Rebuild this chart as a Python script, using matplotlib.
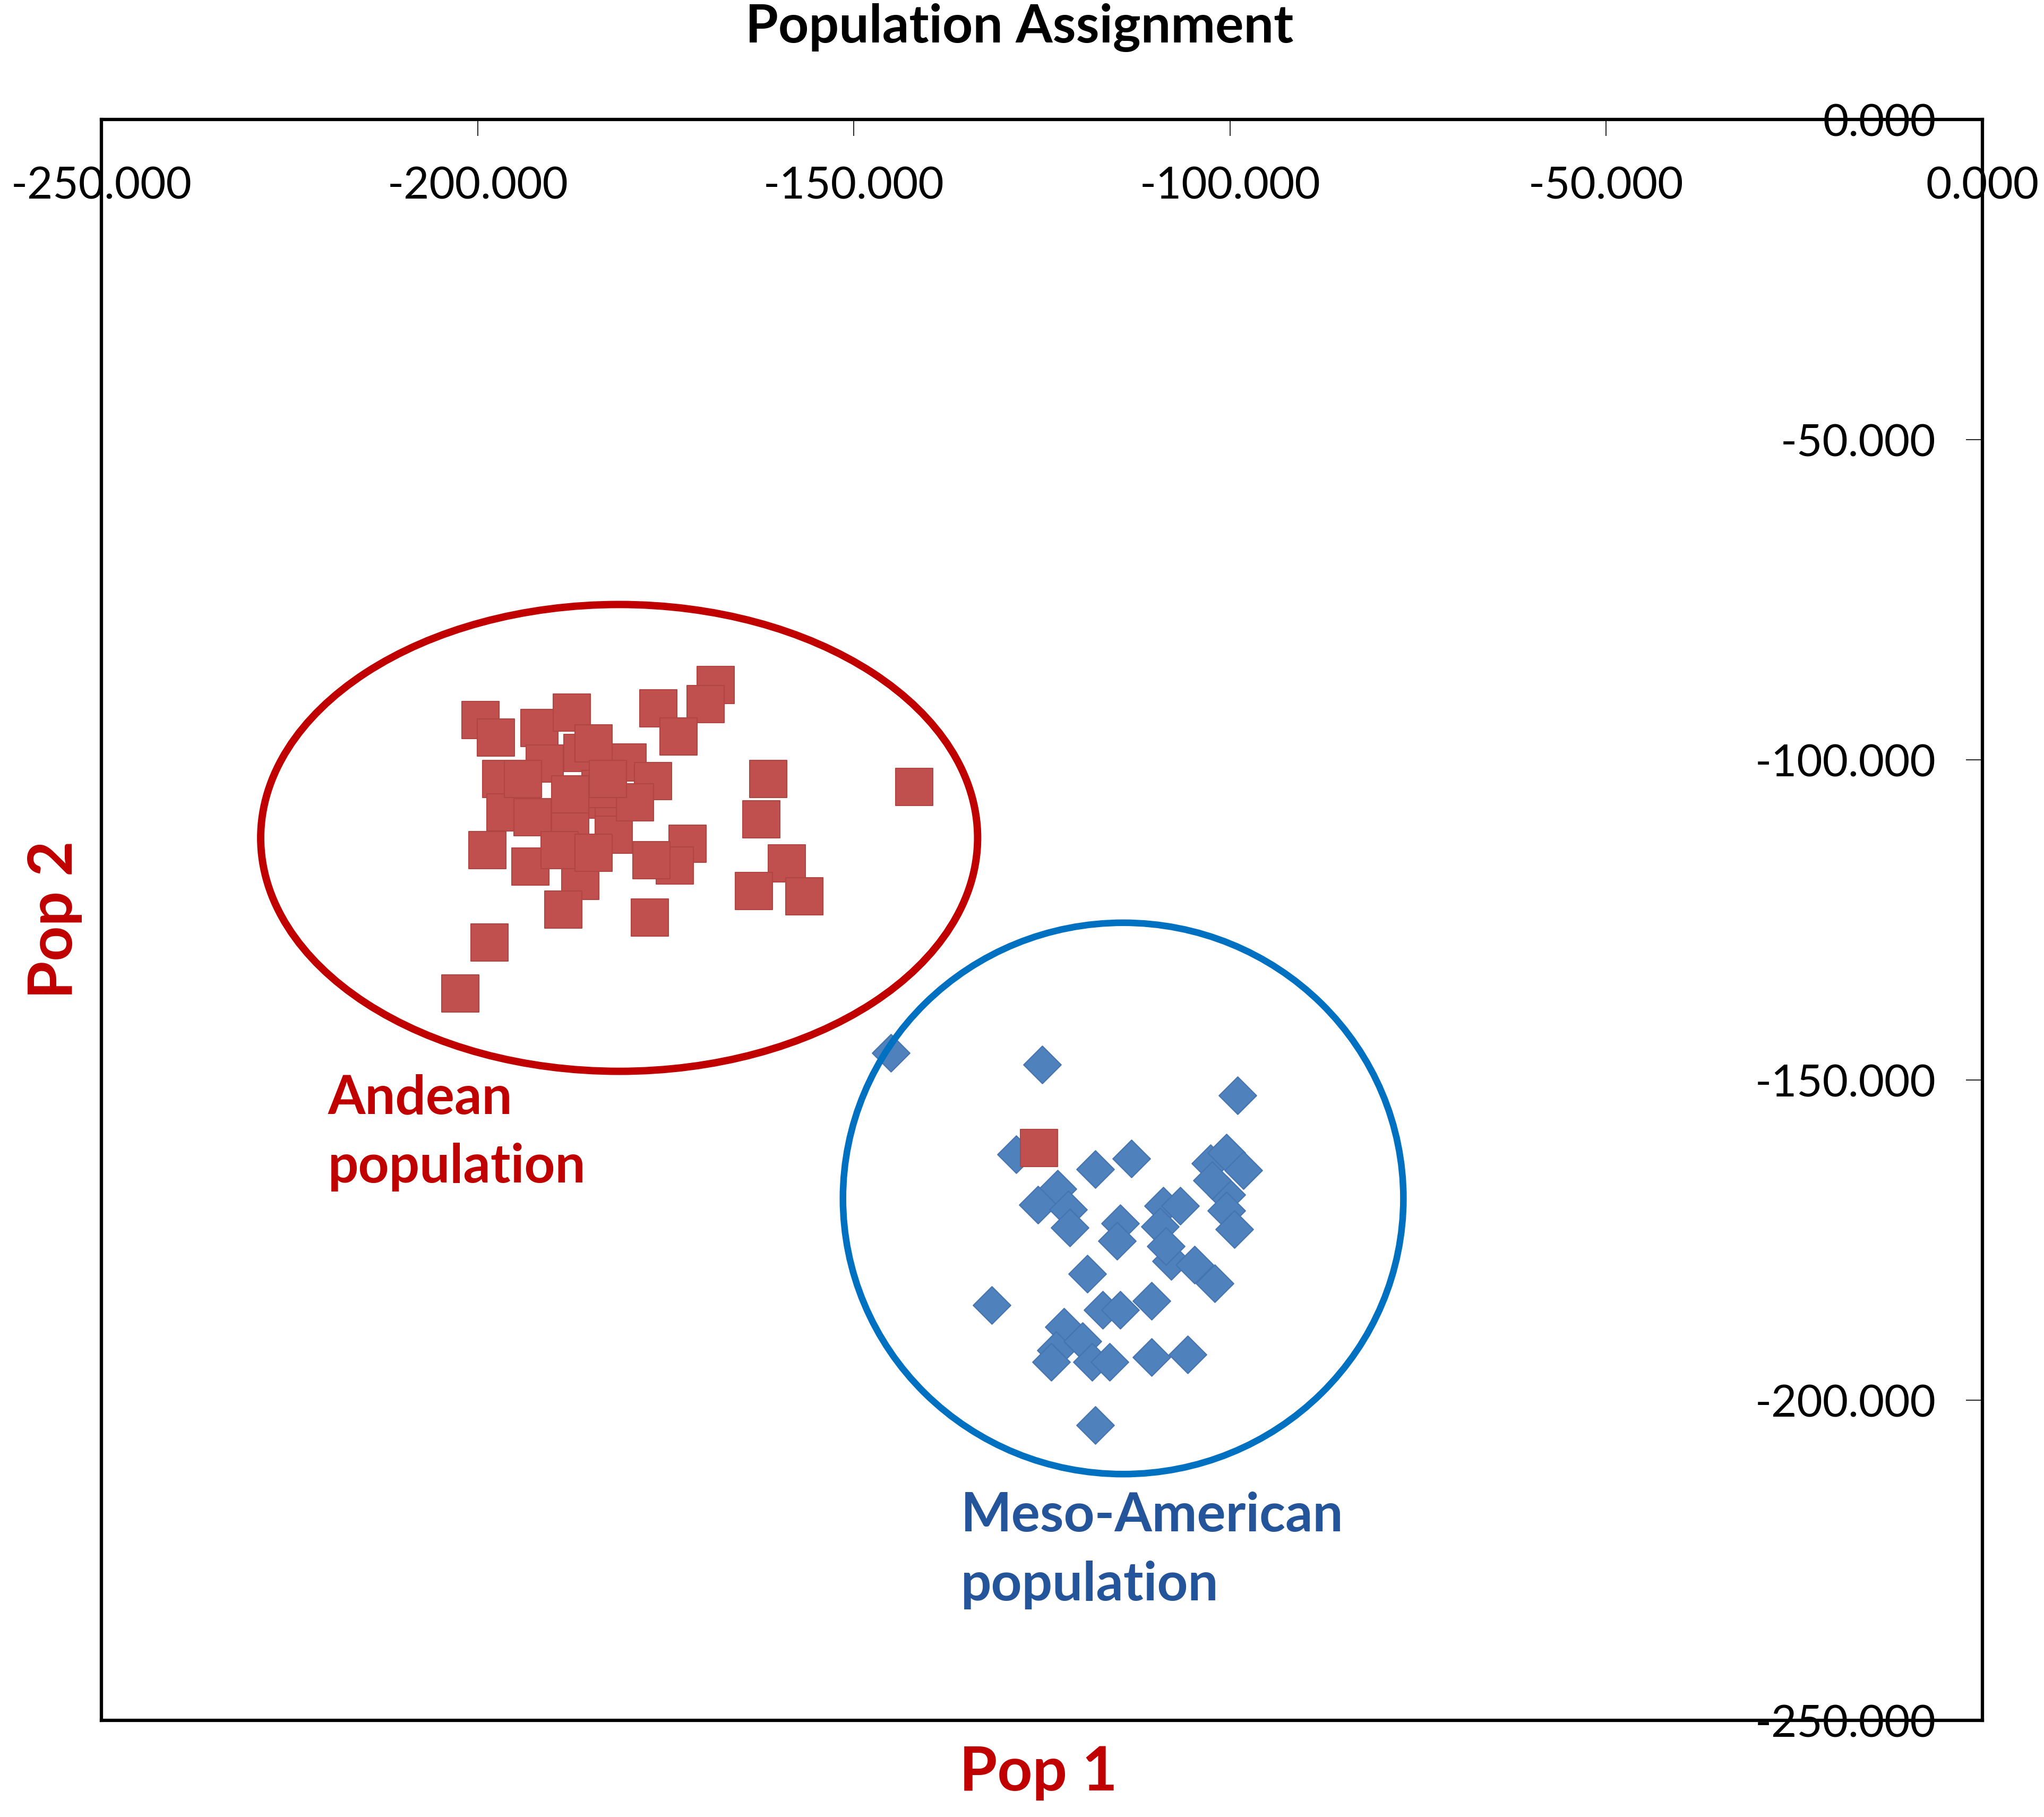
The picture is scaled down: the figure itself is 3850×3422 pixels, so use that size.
import matplotlib
matplotlib.use("Agg")
import matplotlib.pyplot as plt
from matplotlib.patches import Ellipse
import numpy as np

plt.rcParams['font.family'] = ['Lato', 'DejaVu Sans']

# Andean population (red squares): Pop 1, Pop 2
andean_x = [-168.4, -169.7, -176.0, -173.3, -199.6, -197.6, -191.8, -187.5, -186.1,
            -191.1, -196.9, -180.1, -176.7, -161.4, -162.3, -142.0, -196.3, -192.7,
            -185.9, -181.9, -198.7, -193.0, -186.4, -188.6, -177.1, -172.1, -173.8,
            -176.9, -158.9, -163.3, -156.6, -198.4, -202.3, -183.7, -181.9, -187.7,
            -179.1, -189.1, -184.6, -194.0, -182.7, -184.6, -187.7, -125.4]
andean_y = [-88.3, -91.3, -92.0, -96.4, -93.8, -96.5, -95.0, -92.6, -98.9,
            -100.6, -103.0, -100.4, -103.3, -103.0, -109.3, -104.2, -108.2, -109.0,
            -106.2, -108.6, -114.1, -116.7, -118.9, -123.4, -124.6, -113.1, -116.5,
            -115.7, -116.2, -120.5, -121.3, -128.5, -136.5, -104.6, -111.7, -109.7,
            -106.6, -114.1, -97.4, -103.0, -103.0, -114.5, -105.4, -160.6]

# Meso-American population (blue diamonds)
meso_x = [-145.1, -125.0, -99.0, -128.4, -117.9, -113.1, -102.6, -100.5, -98.2,
          -122.9, -125.5, -121.5, -121.3, -114.6, -115.0, -108.9, -106.6, -109.3,
          -100.5, -100.5, -99.4, -107.8, -104.7, -102.0, -119.0, -131.7, -116.9,
          -114.6, -110.4, -122.1, -123.1, -119.6, -123.8, -118.3, -116.0, -110.4,
          -105.6, -117.9, -108.5, -102.4]
meso_y = [-145.8, -147.6, -152.4, -161.6, -163.9, -162.3, -163.0, -161.4, -164.1,
          -167.0, -169.5, -170.2, -173.1, -172.4, -175.1, -169.7, -169.7, -172.9,
          -167.9, -170.4, -173.3, -178.3, -178.9, -181.8, -180.3, -185.2, -185.9,
          -185.9, -184.5, -188.6, -192.2, -190.8, -194.0, -194.0, -194.0, -193.3,
          -192.9, -203.9, -176.0, -165.7]

ticks = [-250, -200, -150, -100, -50, 0]
tick_labels = ['%.3f' % t for t in ticks]

fig = plt.figure(figsize=(38.5, 34.23), dpi=100)
ax = fig.add_axes([0.0497, 0.0532, 0.9201, 0.8808])

ax.scatter(meso_x, meso_y, marker='D', s=36**2, color='#4F81BD',
           edgecolors='#4574B0', linewidths=1.5, zorder=3)
ax.scatter(andean_x, andean_y, marker='s', s=51**2, color='#C0504D',
           edgecolors='#B04542', linewidths=1.5, zorder=4)

# group outlines
ax.add_patch(Ellipse((-181.2, -112.2), 95.3, 72.9, fill=False,
                     edgecolor='#C00000', linewidth=10, zorder=5))
ax.add_patch(Ellipse((-114.2, -168.5), 74.5, 86.1, fill=False,
                     edgecolor='#0070C0', linewidth=9, zorder=5))

ax.set_xlim(-250, 0)
ax.set_ylim(-250, 0)

# Excel style: x axis crossing at the top, y axis at the right
ax.xaxis.tick_top()
ax.yaxis.tick_right()
ax.set_xticks(ticks)
ax.set_xticklabels(tick_labels)
ax.set_yticks(ticks)
ax.set_yticklabels(tick_labels)
ax.tick_params(axis='x', direction='in', length=22, width=1.2, pad=-118,
               labelsize=60, colors='black')
ax.tick_params(axis='y', direction='in', length=22, width=1.2, pad=-63,
               labelsize=60, colors='black')
plt.setp(ax.get_yticklabels(), ha='right')

for s in ax.spines.values():
    s.set_linewidth(4.5)
    s.set_color('black')

ax.text(-219.9, -149.0, 'Andean\npopulation', color='#C00000', fontsize=73,
        fontweight='bold', ha='left', va='top', linespacing=1.5)
ax.text(-135.8, -214.2, 'Meso-American\npopulation', color='#24549A', fontsize=73,
        fontweight='bold', ha='left', va='top', linespacing=1.5)

fig.text(0.4987, 0.9765, 'Population Assignment', fontsize=72, fontweight='bold',
         ha='center', va='baseline', color='black')
fig.text(0.508, 0.0244, 'Pop 1', fontsize=83, fontweight='bold', color='#C00000',
         ha='center', va='center')
fig.text(0.0268, 0.494, 'Pop 2', fontsize=83, fontweight='bold', color='#C00000',
         ha='center', va='center', rotation=90)

fig.savefig('out.png', dpi=100, facecolor='white')
